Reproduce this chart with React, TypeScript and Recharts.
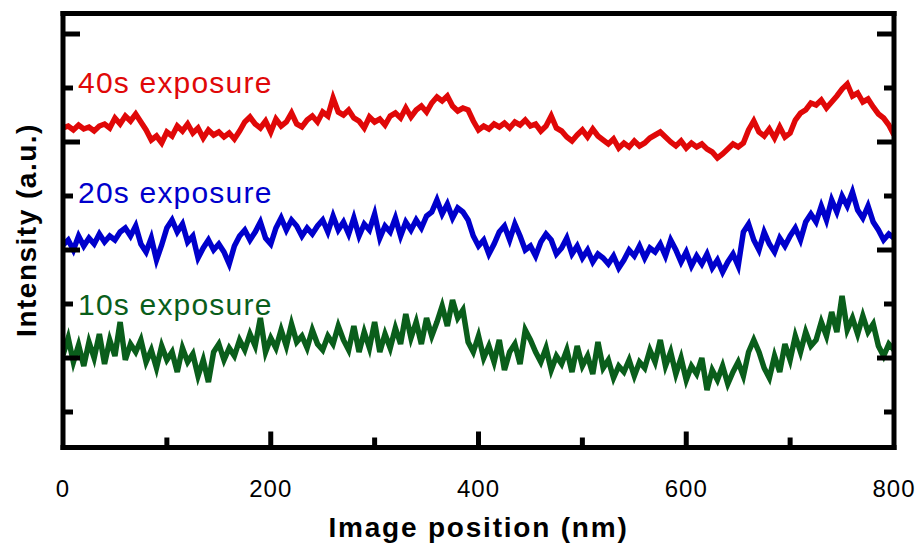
import { Customized, Line, LineChart, XAxis, YAxis } from "recharts";

// sampling step along the scan (nm)
const stepNm = 5;

// intensity (a.u.), one value every 5 nm from 0 to 800
const exposure40s = [
  284, 286, 282, 287, 283, 285, 281, 286, 288, 284, 294, 288, 296, 291, 298, 290, 282, 272, 276, 269,
  280, 276, 286, 281, 288, 279, 284, 274, 282, 277, 280, 275, 279, 273, 281, 290, 295, 288, 284, 291,
  280, 293, 286, 290, 299, 288, 285, 292, 296, 290, 300, 296, 314, 300, 297, 302, 294, 291, 284, 295,
  290, 293, 287, 296, 299, 294, 304, 295, 302, 306, 300, 309, 315, 311, 316, 306, 301, 304, 302, 291,
  282, 286, 283, 288, 285, 289, 284, 290, 287, 292, 286, 288, 281, 286, 296, 284, 281, 275, 271, 277,
  282, 275, 283, 276, 272, 268, 273, 264, 269, 265, 271, 266, 269, 274, 277, 280, 275, 270, 266, 271,
  264, 269, 265, 268, 263, 260, 254, 258, 263, 268, 265, 269, 282, 291, 280, 276, 283, 274, 285, 275,
  279, 292, 299, 302, 309, 307, 312, 304, 310, 316, 323, 328, 316, 319, 310, 313, 305, 298, 294, 287,
  277,
];

const exposure20s = [
  167, 172, 162, 176, 166, 174, 168, 178, 170, 176, 172, 180, 184, 176, 186, 168, 160, 174, 152, 167,
  184, 192, 180, 188, 170, 176, 154, 164, 172, 162, 168, 160, 148, 166, 176, 182, 172, 180, 190, 174,
  168, 184, 194, 182, 192, 186, 176, 184, 178, 186, 192, 180, 196, 182, 190, 178, 194, 176, 188, 182,
  198, 174, 186, 180, 194, 176, 190, 182, 192, 184, 196, 200, 212, 198, 208, 194, 204, 200, 192, 176,
  166, 172, 158, 168, 180, 186, 172, 188, 176, 162, 166, 156, 170, 178, 172, 158, 164, 174, 158, 166,
  154, 162, 150, 158, 154, 148, 156, 144, 152, 162, 156, 166, 154, 164, 160, 168, 156, 172, 162, 150,
  160, 146, 156, 148, 158, 144, 152, 140, 150, 158, 146, 180, 188, 172, 162, 180, 168, 160, 174, 166,
  176, 184, 172, 190, 198, 190, 206, 192, 212, 200, 216, 206, 220, 202, 194, 206, 190, 182, 172, 178,
  174,
];

const exposure10s = [
  57, 74, 50, 67, 46, 70, 54, 78, 48, 72, 56, 90, 52, 68, 60, 72, 50, 62, 44, 66,
  52, 60, 40, 64, 50, 58, 36, 52, 30, 60, 68, 52, 64, 56, 72, 62, 78, 66, 94, 60,
  74, 64, 82, 66, 88, 70, 76, 64, 82, 68, 62, 76, 68, 86, 72, 62, 86, 60, 80, 64,
  90, 60, 78, 64, 84, 68, 98, 74, 90, 68, 94, 76, 90, 106, 86, 112, 94, 102, 70, 60,
  76, 54, 66, 50, 72, 42, 60, 68, 48, 82, 72, 60, 50, 64, 42, 56, 48, 62, 40, 66,
  46, 56, 38, 70, 44, 52, 34, 46, 40, 52, 36, 50, 44, 62, 50, 72, 46, 60, 38, 54,
  32, 46, 38, 54, 22, 42, 32, 46, 28, 40, 50, 36, 60, 72, 60, 44, 34, 56, 40, 68,
  52, 76, 60, 80, 66, 72, 90, 76, 100, 80, 116, 82, 94, 78, 96, 80, 88, 66, 56, 68,
  62,
];

const seriesLabels = ["40s exposure", "20s exposure", "10s exposure"];
const seriesColors = ["#e00808", "#0000cc", "#0a5e1b"];

const xTicks = [0, 100, 200, 300, 400, 500, 600, 700, 800];
const yTicks = [0, 54, 108, 162, 216, 270, 324, 378];
const yMajor = [54, 162, 270, 378];

const data = exposure40s.map((v, i) => ({
  pos: i * stepNm,
  s40: v,
  s20: exposure20s[i],
  s10: exposure10s[i],
}));

const FONT = "'Liberation Sans', Arial, sans-serif";
const frame = { stroke: "#000", strokeWidth: 5, strokeLinecap: "square" as const };

function BottomTick(props: any) {
  const { x, y, payload } = props;
  const v = payload.value;
  const major = v % 200 === 0;
  const edge = v === 0 || v === 800;
  return (
    <g>
      {!edge && <line x1={x} x2={x} y1={y} y2={y - (major ? 16 : 10)} stroke="#000" strokeWidth={5} />}
      {major && (
        <text x={x} y={y + 49.5} textAnchor="middle" fontFamily={FONT} fontSize={24} letterSpacing={1} fill="#000">
          {v}
        </text>
      )}
    </g>
  );
}

function LeftTick(props: any) {
  const { x, y, payload } = props;
  const len = yMajor.includes(payload.value) ? 17 : 10;
  return <line x1={x} x2={x + len} y1={y} y2={y} stroke="#000" strokeWidth={5} />;
}

function RightTick(props: any) {
  const { x, y, payload } = props;
  const len = yMajor.includes(payload.value) ? 17 : 10;
  return <line x1={x} x2={x - len} y1={y} y2={y} stroke="#000" strokeWidth={5} />;
}

function Texts() {
  const baselines = [93, 203, 315];
  return (
    <g fontFamily={FONT}>
      {seriesLabels.map((t, i) => (
        <text key={t} x={78} y={baselines[i]} fontSize={30} letterSpacing={1.2} fill={seriesColors[i]}>
          {t}
        </text>
      ))}
      <text x={478.5} y={537} textAnchor="middle" fontSize={28} fontWeight="bold" letterSpacing={1.8} fill="#000">
        Image position (nm)
      </text>
      <text
        x={36}
        y={230}
        transform="rotate(-90, 36, 230)"
        textAnchor="middle"
        fontSize={28}
        fontWeight="bold"
        letterSpacing={1.5}
        fill="#000"
      >
        Intensity (a.u.)
      </text>
    </g>
  );
}

export default function App() {
  return (
    <div style={{ position: "absolute", left: 0, top: 0, width: 920, height: 550, background: "#fff" }}>
      <LineChart width={920} height={550} data={data} margin={{ top: 13.5, right: 26, bottom: 102.5, left: 63 }}>
        <XAxis
          xAxisId="b"
          dataKey="pos"
          type="number"
          domain={[0, 800]}
          ticks={xTicks}
          interval={0}
          mirror
          height={30}
          tickSize={0}
          tickMargin={0}
          tickLine={false}
          axisLine={frame}
          tick={(p: any) => <BottomTick {...p} />}
          allowDataOverflow
        />
        <XAxis
          xAxisId="t"
          orientation="top"
          type="number"
          domain={[0, 800]}
          ticks={xTicks}
          mirror
          height={30}
          tick={false}
          tickLine={false}
          axisLine={frame}
          allowDataOverflow
        />
        <YAxis
          yAxisId="l"
          type="number"
          domain={[-35.5, 398.5]}
          ticks={yTicks}
          interval={0}
          mirror
          width={30}
          tickSize={0}
          tickMargin={0}
          tickLine={false}
          axisLine={frame}
          tick={(p: any) => <LeftTick {...p} />}
          allowDataOverflow
        />
        <YAxis
          yAxisId="r"
          orientation="right"
          type="number"
          domain={[-35.5, 398.5]}
          ticks={yTicks}
          interval={0}
          mirror
          width={30}
          tickSize={0}
          tickMargin={0}
          tickLine={false}
          axisLine={frame}
          tick={(p: any) => <RightTick {...p} />}
          allowDataOverflow
        />
        <Line xAxisId="b" yAxisId="l" type="linear" dataKey="s40" stroke={seriesColors[0]} strokeWidth={5.5} dot={false} isAnimationActive={false} />
        <Line xAxisId="b" yAxisId="l" type="linear" dataKey="s20" stroke={seriesColors[1]} strokeWidth={5.5} dot={false} isAnimationActive={false} />
        <Line xAxisId="b" yAxisId="l" type="linear" dataKey="s10" stroke={seriesColors[2]} strokeWidth={5.5} dot={false} isAnimationActive={false} />
        <Customized component={Texts} />
      </LineChart>
    </div>
  );
}
